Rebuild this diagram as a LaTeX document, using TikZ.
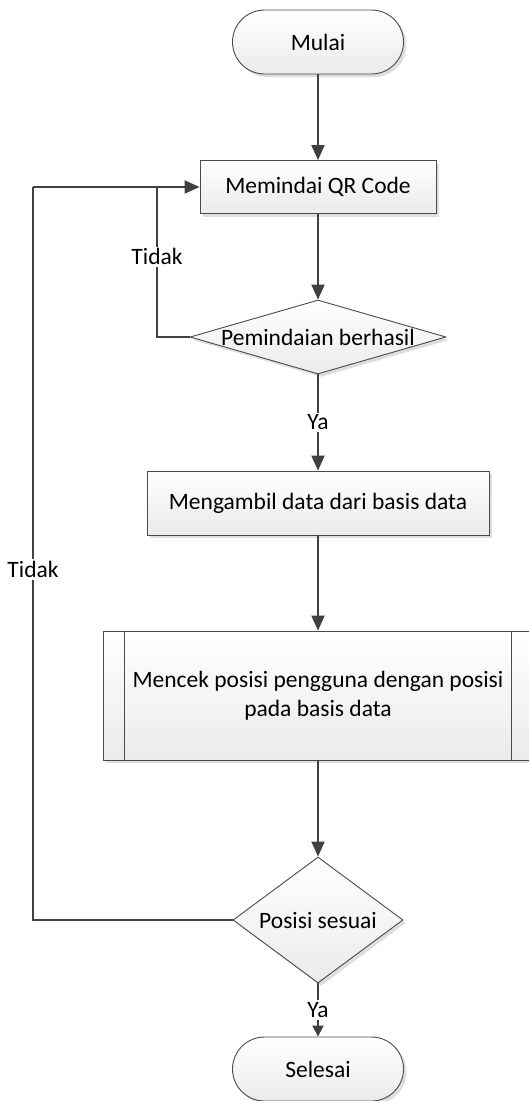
\documentclass[tikz,border=0pt]{standalone}
\usepackage{fontspec}
\setmainfont{Carlito}
\usetikzlibrary{arrows.meta,shapes.geometric,shadows}
\definecolor{linegray}{HTML}{404040}
\definecolor{edgegray}{HTML}{4A4A4A}
\definecolor{shadowgray}{HTML}{DEDEDE}
\begin{document}
\begin{tikzpicture}[x=1pt,y=-1pt,
  every node/.style={font=\fontsize{23.5}{28.5}\selectfont, text=black},
  figure/.style={draw=edgegray, line width=0.9pt, top color=white, bottom color=black!8,
    drop shadow={shadow xshift=3pt, shadow yshift=-3pt, fill=shadowgray, opacity=1}},
  terminal/.style={figure, rectangle, rounded corners=32pt, minimum width=171pt, minimum height=64pt, inner sep=0pt},
  procbox/.style={figure, rectangle, inner sep=0pt},
  decision/.style={figure, diamond, inner sep=0pt},
  wire/.style={draw=linegray, line width=2pt},
  flow/.style={wire, -{Triangle[length=15pt,width=13pt]}},
  shortflow/.style={wire, -{Triangle[length=11pt,width=11pt]}},
  lbl/.style={fill=white, inner sep=2pt}
]
\useasboundingbox (0,0) rectangle (529,1101);

% process steps
\node[terminal] (start) at (318,42) {Mulai};
\node[procbox, minimum width=236pt, minimum height=53pt] (scan) at (318,187) {Memindai QR Code};
\node[decision, minimum width=256pt, minimum height=74pt] (ok1) at (318,337) {};
\node (ok1text) at (ok1) {Pemindaian berhasil};
\node[procbox, minimum width=342pt, minimum height=64pt] (fetch) at (318,503) {Mengambil data dari basis data};
\node[procbox, minimum width=430pt, minimum height=129pt, align=center] (check) at (318,695.5)
  {Mencek posisi pengguna dengan posisi\\pada basis data};
\draw[edgegray, line width=0.9pt]
  ([xshift=22pt]check.north west) -- ([xshift=22pt]check.south west)
  ([xshift=-22pt]check.north east) -- ([xshift=-22pt]check.south east);
\node[decision, minimum width=170pt, minimum height=126pt] (ok2) at (318,920) {};
\node (ok2text) at (ok2) {Posisi sesuai};
\node[terminal] (stop) at (318,1069) {Selesai};

% main flow
\draw[flow] (start) -- (scan);
\draw[flow] (scan) -- (ok1);
\draw[flow] (ok1) -- node[lbl] {Ya} (fetch);
\draw[flow] (fetch) -- (check);
\draw[flow] (check) -- (ok2);
\draw[shortflow] (ok2) -- node[lbl] {Ya} (stop);

% loops back to scanning
\coordinate (outer) at (33,187);
\coordinate (inner) at (157,187);
\draw[wire] (ok1.west) -| node[lbl, pos=0.767] {Tidak} (inner);
\draw[wire] (ok2.west) -| node[lbl, pos=0.739] {Tidak} (outer);
\draw[flow] (outer) -- (scan.west);
\end{tikzpicture}
\end{document}
